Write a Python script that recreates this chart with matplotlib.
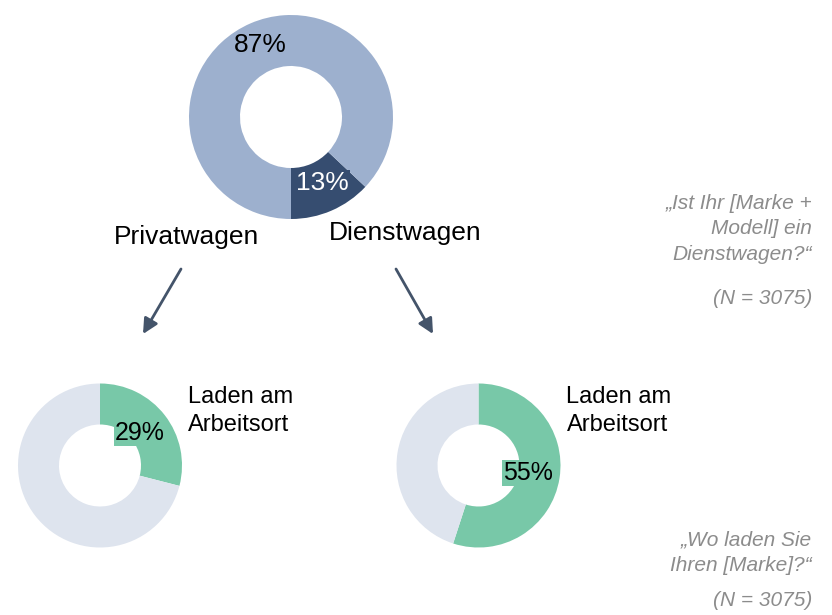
import matplotlib.pyplot as plt

plt.rcParams['font.family'] = ['Liberation Sans', 'DejaVu Sans']

# Daten
car_types = ['Dienstwagen', 'Privatwagen']
car_share = [13, 87]
charge_labels = ['Laden am\nArbeitsort', 'Sonstige']
charge_private = [29, 71]
charge_company = [55, 45]

W, H = 832, 615
c_light = '#9db0ce'
c_dark = '#364d70'
c_green = '#78c8a8'
c_grey = '#dee4ee'
c_arrow = '#44546a'
c_note = '#8c8c8c'

fig = plt.figure(figsize=(W / 100, H / 100), dpi=100)
ax = fig.add_axes([0, 0, 1, 1])
ax.set_xlim(0, W)
ax.set_ylim(0, H)
ax.set_aspect('equal')
ax.axis('off')


def Y(y):
    return H - y


# Donut oben: Dienstwagen / Privatwagen
ax.pie(car_share, colors=[c_dark, c_light], startangle=-90, counterclock=True,
       center=(291, Y(117)), radius=102,
       wedgeprops=dict(width=51, linewidth=0), frame=True)
ax.text(322, Y(183), f"{car_share[0]}%", color='white', fontsize=19,
        ha='center', va='center',
        bbox=dict(boxstyle='square,pad=0.05', fc=c_dark, ec='none'))
ax.text(260, Y(45), f"{car_share[1]}%", color='black', fontsize=19,
        ha='center', va='center')

ax.text(186, Y(237), car_types[1], fontsize=19, ha='center', va='center')
ax.text(405, Y(233), car_types[0], fontsize=19, ha='center', va='center')

# Pfeile
arrow_kw = dict(arrowstyle='-|>,head_length=0.9,head_width=0.45',
                color=c_arrow, lw=2, shrinkA=0, shrinkB=0)
ax.annotate('', xy=(143, Y(334)), xytext=(181, Y(269)), arrowprops=arrow_kw)
ax.annotate('', xy=(433, Y(334)), xytext=(396, Y(269)), arrowprops=arrow_kw)

# Donuts unten: Laden am Arbeitsort
for vals, cx, lab_xy in [(charge_private, 100, (140, 433)),
                         (charge_company, 478.5, (528, 473))]:
    ax.pie(vals, colors=[c_green, c_grey], startangle=90, counterclock=False,
           center=(cx, Y(465.5)), radius=82,
           wedgeprops=dict(width=41, linewidth=0), frame=True)
    ax.text(lab_xy[0], Y(lab_xy[1]), f"{vals[0]}%", color='black', fontsize=18,
            ha='center', va='center',
            bbox=dict(boxstyle='square,pad=0.05', fc=c_green, ec='none'))
    ax.text(cx + 88, Y(386), charge_labels[0], fontsize=17, ha='left',
            va='top', linespacing=1.35)

ax.set_xlim(0, W)
ax.set_ylim(0, H)
ax.axis('off')

# Fragen
ax.text(812, Y(194), "„Ist Ihr [Marke +\nModell] ein\nDienstwagen?“",
        fontsize=15, style='italic', color=c_note, ha='right', va='top',
        linespacing=1.42)
ax.text(812, Y(299), "(N = 3075)", fontsize=15, style='italic',
        color=c_note, ha='right', va='center')
ax.text(812, Y(531), "„Wo laden Sie\nIhren [Marke]?“",
        fontsize=15, style='italic', color=c_note, ha='right', va='top',
        linespacing=1.42)
ax.text(812, Y(601), "(N = 3075)", fontsize=15, style='italic',
        color=c_note, ha='right', va='center')

fig.savefig('out.png', dpi=100)
